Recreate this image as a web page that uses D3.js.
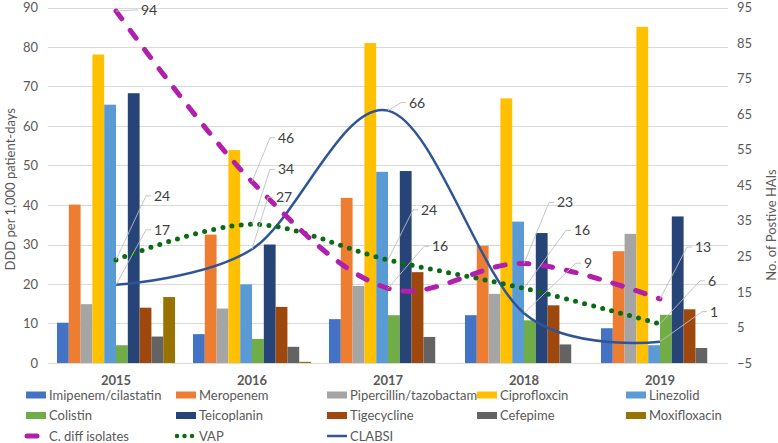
<!DOCTYPE html>
<html><head><meta charset="utf-8">
<script src="https://cdn.jsdelivr.net/npm/d3@7"></script>
<style>
html,body{margin:0;padding:0;background:#fff;}
svg{display:block;font-family:Lato,"Open Sans",sans-serif;}
</style></head>
<body><svg id="chart" width="778" height="443"></svg>
<script>
const years = ["2015","2016","2017","2018","2019"];
const drugs = ["Imipenem/cilastatin","Meropenem","Pipercillin/tazobactam","Ciprofloxcin","Linezolid","Colistin","Teicoplanin","Tigecycline","Cefepime","Moxifloxacin"];
const imipenem   = [10.2, 7.3, 11.1, 12.1, 8.8];
const meropenem  = [40.1, 32.5, 41.8, 29.7, 28.3];
const piperacillin = [14.9, 13.8, 19.5, 17.5, 32.7];
const ciprofloxacin = [78.1, 53.9, 81.0, 67.0, 85.1];
const linezolid  = [65.4, 19.9, 48.4, 35.8, 4.5];
const colistin   = [4.5, 6.1, 12.1, 10.8, 12.2];
const teicoplanin = [68.3, 30.0, 48.6, 32.9, 37.1];
const tigecycline = [14.0, 14.2, 23.0, 14.6, 13.6];
const cefepime   = [6.7, 4.1, 6.6, 4.7, 3.8];
const moxifloxacin = [16.7, 0.3, 0, 0, 0];
const cdiff  = [94, 46, 16, 23, 13];
const vap    = [24, 34, 24, 16, 6];
const clabsi = [17, 27, 66, 9, 1];
const leftTicks = [0,10,20,30,40,50,60,70,80,90];
const rightTicks = [-5,5,15,25,35,45,55,65,75,85,95];

const barSeries = [imipenem, meropenem, piperacillin, ciprofloxacin, linezolid, colistin, teicoplanin, tigecycline, cefepime, moxifloxacin];
const barColors = ["#4472C4","#ED7D31","#A5A5A5","#FFC000","#5B9BD5","#70AD47","#264478","#9E480E","#636363","#997300"];

const svg = d3.select("#chart");
const L = 48, R = 728, T = 7.5, B = 363;
const x = d3.scaleBand().domain(years).range([L, R]).padding(0);
const xi = d3.scaleBand().domain(drugs).range([0, x.bandwidth()]).paddingInner(0).paddingOuter(0.76);
const yL = d3.scaleLinear().domain([0, 90]).range([B, T]);
const yR = d3.scaleLinear().domain([-5, 95]).range([B, T]);

// grid
svg.append("g").selectAll("line").data(leftTicks).join("line")
  .attr("x1", L).attr("x2", R).attr("y1", d=>Math.round(yL(d))+0.5).attr("y2", d=>Math.round(yL(d))+0.5)
  .attr("stroke", "#d9d9d9").attr("stroke-width", 1);

// left axis
const axL = svg.append("g").attr("transform", `translate(${L},0)`)
  .call(d3.axisLeft(yL).tickValues(leftTicks).tickSize(0).tickPadding(10));
axL.select(".domain").remove();
axL.selectAll("text").attr("font-size", 13).attr("fill", "#595959").attr("font-family","Lato");

// right axis
const axR = svg.append("g").attr("transform", `translate(${R},0)`)
  .call(d3.axisRight(yR).tickValues(rightTicks).tickSize(0).tickPadding(9));
axR.select(".domain").remove();
axR.selectAll("text").attr("font-size", 13).attr("fill", "#595959").attr("font-family","Lato");

// x labels
svg.append("g").selectAll("text").data(years).join("text")
  .attr("x", d=>x(d)+x.bandwidth()/2).attr("y", 385)
  .attr("text-anchor","middle").attr("font-size", 13).attr("font-weight","bold")
  .attr("fill","#595959").text(d=>d);

// axis titles
svg.append("text").attr("transform", `translate(15,${(T+B)/2+4}) rotate(-90)`)
  .attr("text-anchor","middle").attr("font-size",13).attr("fill","#595959")
  .text("DDD per 1,000 patient-days");
svg.append("text").attr("transform", `translate(776,225) rotate(-90)`)
  .attr("text-anchor","middle").attr("font-size",13).attr("fill","#595959")
  .text("No. of Postive HAIs");

// bars
const barG = svg.append("g");
barSeries.forEach((vals, si) => {
  barG.append("g").selectAll("rect").data(years).join("rect")
    .attr("x", (yr)=>x(yr)+xi(drugs[si]))
    .attr("width", xi.bandwidth())
    .attr("y", (yr,i)=>yL(vals[i]))
    .attr("height", (yr,i)=>yL(0)-yL(vals[i]))
    .attr("fill", barColors[si]);
});

// lines
const cx = yr => x(yr) + x.bandwidth()/2;
const lineGen = vals => d3.line().x((d,i)=>cx(years[i])).y(d=>yR(d)).curve(d3.curveCatmullRom.alpha(0))(vals);

svg.append("path").attr("d", lineGen(clabsi)).attr("fill","none")
  .attr("stroke","#2F5597").attr("stroke-width",2.5);
svg.append("path").attr("d", lineGen(vap)).attr("fill","none")
  .attr("stroke","#0A6B12").attr("stroke-width",5).attr("stroke-linecap","round")
  .attr("stroke-dasharray","0 9.3");
svg.append("path").attr("d", lineGen(cdiff)).attr("fill","none")
  .attr("stroke","#B020AC").attr("stroke-width",5).attr("stroke-linecap","round")
  .attr("stroke-dasharray","10 14");

// data labels with leader lines
const labelOffsets = {
  cdiff:  [[25,-1],[26,-44],[44,-42],[33,-61],[35,-52]],
  vap:    [[38,-64],[26,-55],[33,-50],[50,-58],[48,-43]],
  clabsi: [[38,-55],[24,-52],[21,-8],[60,-50],[50,-30]]
};
const lblG = svg.append("g");
[["cdiff",cdiff],["vap",vap],["clabsi",clabsi]].forEach(([key, vals]) => {
  vals.forEach((v,i) => {
    const px = cx(years[i]), py = yR(v);
    const [dx,dy] = labelOffsets[key][i];
    const lx = px+dx, ly = py+dy;
    if (Math.abs(dx) > 22 || Math.abs(dy) > 5) {
      lblG.append("path")
        .attr("d", `M${px},${py}L${lx-8},${ly}L${lx-3},${ly}`)
        .attr("fill","none").attr("stroke","#bfbfbf").attr("stroke-width",0.9);
    } else {
      lblG.append("path").attr("d", `M${lx-8},${ly}L${lx-3},${ly}`)
        .attr("stroke","#bfbfbf").attr("stroke-width",0.9);
    }
    lblG.append("text").attr("x", lx).attr("y", ly+5)
      .attr("font-size",14).attr("fill","#404040").text(v);
  });
});

// legend
const colX = [26,176,327,477,626];
const rowY = [395,415.5,436];
const legG = svg.append("g");
drugs.forEach((d,i) => {
  const r = Math.floor(i/5), c = i%5;
  legG.append("rect").attr("x", colX[c]).attr("y", rowY[r]-3.5).attr("width",20).attr("height",7)
    .attr("fill", barColors[i]);
  legG.append("text").attr("x", colX[c]+23).attr("y", rowY[r]+4.5)
    .attr("font-size",13).attr("fill","#595959").text(d);
});
const lineLegend = [
  {name:"C. diff isolates", stroke:"#B020AC", dash:"10 14", w:5, cap:"round", x1:1, x2:11},
  {name:"VAP", stroke:"#0A6B12", dash:"0 7.5", w:4.5, cap:"round", x1:1, x2:20},
  {name:"CLABSI", stroke:"#2F5597", dash:null, w:2.5, cap:"butt", x1:0, x2:20}
];
lineLegend.forEach((s,i) => {
  const l = legG.append("line").attr("x1", colX[i]+s.x1).attr("x2", colX[i]+s.x2)
    .attr("y1", rowY[2]).attr("y2", rowY[2])
    .attr("stroke", s.stroke).attr("stroke-width", s.w).attr("stroke-linecap", s.cap);
  if (s.dash) l.attr("stroke-dasharray", s.dash);
  legG.append("text").attr("x", colX[i]+23).attr("y", rowY[2]+4.5)
    .attr("font-size",13).attr("fill","#595959").text(s.name);
});
</script></body></html>
